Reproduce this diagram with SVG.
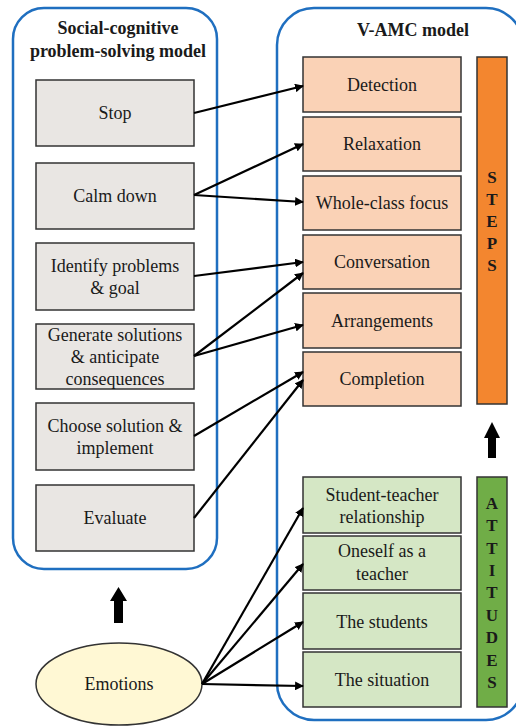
<svg xmlns="http://www.w3.org/2000/svg" width="516" height="726" viewBox="0 0 516 726">
<style>
text{font-family:"Liberation Serif","Times New Roman",serif;fill:#1a1a1a;}
.t{font-size:18px;text-anchor:middle;}
.h{font-size:18px;font-weight:bold;text-anchor:middle;}
.v{font-size:17px;font-weight:bold;text-anchor:middle;}
.cont{fill:none;stroke:#1f6fc0;stroke-width:2.5;}
.g{fill:#e9e6e3;stroke:#333;stroke-width:1.5;}
.o{fill:#fad2b6;stroke:#333;stroke-width:1.5;}
.gr{fill:#d5e7c5;stroke:#333;stroke-width:1.5;}
.c{stroke:#000;stroke-width:2.2;fill:none;marker-end:url(#ah);}
</style>
<defs>
<marker id="ah" viewBox="0 0 10 10" refX="9" refY="5" markerWidth="4" markerHeight="4" orient="auto" markerUnits="strokeWidth">
<path d="M0,0 L10,5 L0,10 z" fill="#000"/>
</marker>
</defs>
<rect width="516" height="726" fill="#fff"/>
<g id="left-container">
<rect class="cont" x="13" y="8" width="204" height="561" rx="31"/>
<text class="h" x="118" y="34">Social-cognitive</text>
<text class="h" x="118" y="57">problem-solving model</text>
</g>
<g id="right-container">
<rect class="cont" x="277" y="8" width="246" height="712" rx="37"/>
<text class="h" x="413" y="36">V-AMC model</text>
</g>
<g id="stop"><rect class="g" x="36" y="80" width="158" height="66"/><text class="t" x="115" y="119">Stop</text></g>
<g id="calm"><rect class="g" x="36" y="163" width="158" height="66"/><text class="t" x="115" y="202">Calm down</text></g>
<g id="identify"><rect class="g" x="36" y="243" width="158" height="67"/><text class="t" x="115" y="272">Identify problems</text><text class="t" x="115" y="294">&amp; goal</text></g>
<g id="generate"><rect class="g" x="36" y="324" width="158" height="65"/><text class="t" x="115" y="341">Generate solutions</text><text class="t" x="115" y="363">&amp; anticipate</text><text class="t" x="115" y="385">consequences</text></g>
<g id="choose"><rect class="g" x="36" y="403" width="158" height="67"/><text class="t" x="115" y="432">Choose solution &amp;</text><text class="t" x="115" y="454">implement</text></g>
<g id="evaluate"><rect class="g" x="36" y="485" width="158" height="66"/><text class="t" x="115" y="524">Evaluate</text></g>
<g id="detection"><rect class="o" x="303" y="57" width="158" height="55"/><text class="t" x="382" y="91">Detection</text></g>
<g id="relaxation"><rect class="o" x="303" y="117" width="158" height="54"/><text class="t" x="382" y="150">Relaxation</text></g>
<g id="wholeclass"><rect class="o" x="303" y="176" width="158" height="54"/><text class="t" x="382" y="209">Whole-class focus</text></g>
<g id="conversation"><rect class="o" x="303" y="235" width="158" height="54"/><text class="t" x="382" y="268">Conversation</text></g>
<g id="arrangements"><rect class="o" x="303" y="293" width="158" height="55"/><text class="t" x="382" y="327">Arrangements</text></g>
<g id="completion"><rect class="o" x="303" y="352" width="158" height="54"/><text class="t" x="382" y="385">Completion</text></g>
<g id="steps">
<rect x="477" y="57" width="30" height="347" fill="#f3862f" stroke="#333" stroke-width="1.5"/>
<text class="v" x="492" y="183">S</text><text class="v" x="492" y="205">T</text><text class="v" x="492" y="227">E</text><text class="v" x="492" y="249">P</text><text class="v" x="492" y="271">S</text>
</g>
<g id="st-rel"><rect class="gr" x="303" y="477" width="158" height="56"/><text class="t" x="382" y="501">Student-teacher</text><text class="t" x="382" y="523">relationship</text></g>
<g id="oneself"><rect class="gr" x="303" y="536" width="158" height="54"/><text class="t" x="382" y="557">Oneself as a</text><text class="t" x="382" y="580">teacher</text></g>
<g id="students"><rect class="gr" x="303" y="593" width="158" height="56"/><text class="t" x="382" y="628">The students</text></g>
<g id="situation"><rect class="gr" x="303" y="652" width="158" height="55"/><text class="t" x="382" y="686">The situation</text></g>
<g id="attitudes">
<rect x="477" y="477" width="30" height="230" fill="#70ad47" stroke="#333" stroke-width="1.5"/>
<text class="v" x="492" y="509">A</text><text class="v" x="492" y="531">T</text><text class="v" x="492" y="554">T</text><text class="v" x="492" y="576">I</text><text class="v" x="492" y="598">T</text><text class="v" x="492" y="621">U</text><text class="v" x="492" y="643">D</text><text class="v" x="492" y="666">E</text><text class="v" x="492" y="688">S</text>
</g>
<g id="emotions"><ellipse cx="119" cy="684" rx="83" ry="41" fill="#fff8d4" stroke="#333" stroke-width="1.5"/><text class="t" x="119" y="690">Emotions</text></g>
<g id="big-arrows" fill="#000">
<path d="M492,422 L500,438 L496,438 L496,458 L488,458 L488,438 L484,438 Z"/>
<path d="M118.5,587 L127,601 L123,601 L123,623 L114,623 L114,601 L110,601 Z"/>
</g>
<g id="connectors">
<line class="c" x1="194" y1="113" x2="303" y2="86"/>
<line class="c" x1="194" y1="195" x2="303" y2="144"/>
<line class="c" x1="194" y1="195" x2="303" y2="202"/>
<line class="c" x1="194" y1="276" x2="303" y2="262"/>
<line class="c" x1="194" y1="356" x2="303" y2="273"/>
<line class="c" x1="194" y1="356" x2="303" y2="325"/>
<line class="c" x1="194" y1="436" x2="303" y2="372"/>
<line class="c" x1="194" y1="518" x2="303" y2="380"/>
<line class="c" x1="202" y1="684" x2="303" y2="508"/>
<line class="c" x1="202" y1="684" x2="303" y2="564"/>
<line class="c" x1="202" y1="684" x2="303" y2="622"/>
<line class="c" x1="202" y1="684" x2="303" y2="686"/>
</g>
</svg>
